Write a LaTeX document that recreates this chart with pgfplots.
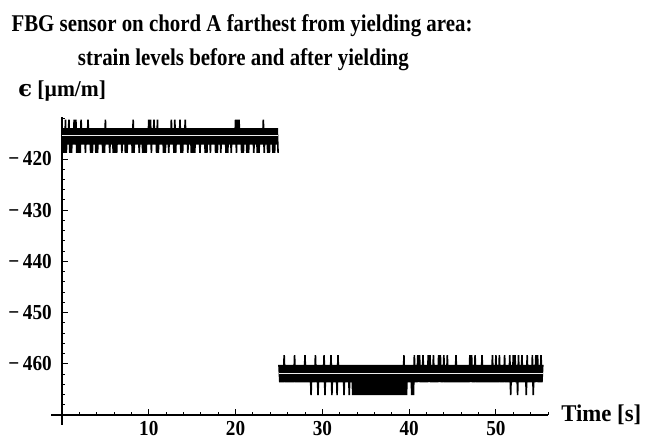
\documentclass[border=0pt]{standalone}
\usepackage{fontspec}
\setmainfont{Liberation Serif}
\newfontfamily\titlefont[FakeStretch=0.87]{Liberation Serif}
\newfontfamily\labelfont[FakeStretch=0.95]{Liberation Serif}
\newfontfamily\tickfont[FakeStretch=0.9]{Liberation Serif}
\newfontfamily\dvs{DejaVu Serif}
\usepackage{pgfplots}
\pgfplotsset{compat=1.18}

\begin{document}
\begin{tikzpicture}
\useasboundingbox (-46.5pt,-19.5pt) rectangle (438.75pt,311.25pt);
\begin{axis}[
  at={(0,0)}, anchor=south west,
  scale only axis,
  width=364.5pt, height=223.5pt,
  xmin=0, xmax=56,
  ymin=-470, ymax=-411.8,
  axis lines=left,
  axis line style={-, line width=0.8pt},
  tick align=inside,
  tick style={black, line width=0.7pt},
  major tick length=4.5pt,
  minor tick length=2.6pt,
  xtick={10,20,30,40,50},
  xticklabels={10,20,30,40,50},
  minor xtick={2,4,...,56},
  ytick={-460,-450,-440,-430,-420},
  minor ytick={-468,-466,...,-412},
  yticklabels={−\,460,−\,450,−\,440,−\,430,−\,420},
  every tick label/.append style={font=\tickfont\bfseries\fontsize{16}{18}\selectfont},
  xticklabel style={anchor=base, yshift=-15.75pt},
  yticklabel style={anchor=east, inner sep=0pt, xshift=-7.5pt},
  clip=false,
]
% before yielding
\addplot[black, line width=1.2pt] coordinates {
(0.0,-414) (0.1,-418.8) (0.2,-414) (0.3,-418.8) (0.4,-412.3) (0.5,-418.8) (0.6,-414) (0.7,-417.2) (0.8,-412.3) (0.9,-418.8)
(1.0,-414) (1.1,-418.8) (1.2,-414) (1.3,-417.2) (1.4,-412.3) (1.5,-417.2) (1.6,-412.3) (1.7,-418.8) (1.8,-414) (1.9,-418.8)
(2.0,-414) (2.1,-418.8) (2.2,-412.3) (2.3,-417.2) (2.4,-414) (2.5,-417.2) (2.6,-414) (2.7,-418.8) (2.8,-414) (2.9,-417.2)
(3.0,-412.3) (3.1,-417.2) (3.2,-414) (3.3,-418.8) (3.4,-414) (3.5,-418.8) (3.6,-414) (3.7,-417.2) (3.8,-414) (3.9,-418.8)
(4.0,-414) (4.1,-418.8) (4.2,-414) (4.3,-417.2) (4.4,-414) (4.5,-417.2) (4.6,-414) (4.7,-418.8) (4.8,-414) (4.9,-418.8)
(5.0,-412.3) (5.1,-417.2) (5.2,-414) (5.3,-417.2) (5.4,-414) (5.5,-418.8) (5.6,-414) (5.7,-417.2) (5.8,-414) (5.9,-418.8)
(6.0,-414) (6.1,-418.8) (6.2,-414) (6.3,-418.8) (6.4,-414) (6.5,-417.2) (6.6,-414) (6.7,-417.2) (6.8,-414) (6.9,-418.8)
(7.0,-414) (7.1,-417.2) (7.2,-414) (7.3,-418.8) (7.4,-414) (7.5,-418.8) (7.6,-414) (7.7,-417.2) (7.8,-414) (7.9,-417.2)
(8.0,-414) (8.1,-418.8) (8.2,-412.3) (8.3,-418.8) (8.4,-414) (8.5,-417.2) (8.6,-414) (8.7,-417.2) (8.8,-414) (8.9,-418.8)
(9.0,-414) (9.1,-417.2) (9.2,-414) (9.3,-418.8) (9.4,-414) (9.5,-418.8) (9.6,-414) (9.7,-418.8) (9.8,-414) (9.9,-417.2)
(10.0,-412.3) (10.1,-417.2) (10.2,-412.3) (10.3,-418.8) (10.4,-414) (10.5,-417.2) (10.6,-412.3) (10.7,-417.2) (10.8,-414) (10.9,-418.8)
(11.0,-412.3) (11.1,-418.8) (11.2,-414) (11.3,-417.2) (11.4,-414) (11.5,-417.2) (11.6,-414) (11.7,-418.8) (11.8,-414) (11.9,-418.8)
(12.0,-414) (12.1,-417.2) (12.2,-414) (12.3,-418.8) (12.4,-414) (12.5,-417.2) (12.6,-412.3) (12.7,-417.2) (12.8,-414) (12.9,-418.8)
(13.0,-412.3) (13.1,-418.8) (13.2,-414) (13.3,-417.2) (13.4,-414) (13.5,-417.2) (13.6,-412.3) (13.7,-418.8) (13.8,-414) (13.9,-418.8)
(14.0,-414) (14.1,-417.2) (14.2,-412.3) (14.3,-417.2) (14.4,-414) (14.5,-418.8) (14.6,-414) (14.7,-417.2) (14.8,-414) (14.9,-418.8)
(15.0,-414) (15.1,-418.8) (15.2,-414) (15.3,-418.8) (15.4,-414) (15.5,-417.2) (15.6,-414) (15.7,-417.2) (15.8,-414) (15.9,-418.8)
(16.0,-414) (16.1,-417.2) (16.2,-414) (16.3,-417.2) (16.4,-414) (16.5,-418.8) (16.6,-414) (16.7,-418.8) (16.8,-414) (16.9,-417.2)
(17.0,-414) (17.1,-418.8) (17.2,-414) (17.3,-417.2) (17.4,-414) (17.5,-417.2) (17.6,-414) (17.7,-418.8) (17.8,-414) (17.9,-418.8)
(18.0,-414) (18.1,-417.2) (18.2,-414) (18.3,-418.8) (18.4,-414) (18.5,-417.2) (18.6,-414) (18.7,-417.2) (18.8,-414) (18.9,-418.8)
(19.0,-414) (19.1,-418.8) (19.2,-414) (19.3,-417.2) (19.4,-414) (19.5,-418.8) (19.6,-414) (19.7,-417.2) (19.8,-414) (19.9,-417.2)
(20.0,-412.3) (20.1,-418.8) (20.2,-412.3) (20.3,-417.2) (20.4,-412.3) (20.5,-417.2) (20.6,-414) (20.7,-418.8) (20.8,-414) (20.9,-418.8)
(21.0,-414) (21.1,-417.2) (21.2,-414) (21.3,-418.8) (21.4,-414) (21.5,-418.8) (21.6,-414) (21.7,-417.2) (21.8,-414) (21.9,-417.2)
(22.0,-414) (22.1,-418.8) (22.2,-414) (22.3,-417.2) (22.4,-414) (22.5,-418.8) (22.6,-414) (22.7,-418.8) (22.8,-414) (22.9,-417.2)
(23.0,-414) (23.1,-417.2) (23.2,-412.3) (23.3,-418.8) (23.4,-414) (23.5,-417.2) (23.6,-414) (23.7,-418.8) (23.8,-414) (23.9,-418.8)
(24.0,-414) (24.1,-417.2) (24.2,-414) (24.3,-418.8) (24.4,-414) (24.5,-418.8) (24.6,-414) (24.7,-417.2) (24.8,-414) (24.9,-418.8)
};
% after yielding
\addplot[black, line width=1.2pt] coordinates {
(25.0,-460.2) (25.1,-463.6) (25.2,-460.2) (25.3,-463.6) (25.4,-460.2) (25.5,-463.6) (25.6,-458.3) (25.7,-463.6) (25.8,-460.2) (25.9,-463.6)
(26.0,-460.2) (26.1,-463.6) (26.2,-460.2) (26.3,-463.6) (26.4,-460.2) (26.5,-463.6) (26.6,-460.2) (26.7,-463.6) (26.8,-458.3) (26.9,-463.6)
(27.0,-460.2) (27.1,-463.6) (27.2,-460.2) (27.3,-463.6) (27.4,-460.2) (27.5,-463.6) (27.6,-460.2) (27.7,-463.6) (27.8,-460.2) (27.9,-463.6)
(28.0,-458.3) (28.1,-463.6) (28.2,-460.2) (28.3,-463.6) (28.4,-460.2) (28.5,-463.6) (28.6,-460.2) (28.7,-466.1) (28.8,-460.2) (28.9,-463.6)
(29.0,-460.2) (29.1,-463.6) (29.2,-458.3) (29.3,-463.6) (29.4,-460.2) (29.5,-466.1) (29.6,-460.2) (29.7,-463.6) (29.8,-460.2) (29.9,-463.6)
(30.0,-460.2) (30.1,-463.6) (30.2,-458.3) (30.3,-466.1) (30.4,-460.2) (30.5,-463.6) (30.6,-460.2) (30.7,-463.6) (30.8,-460.2) (30.9,-463.6)
(31.0,-458.3) (31.1,-466.1) (31.2,-460.2) (31.3,-463.6) (31.4,-460.2) (31.5,-463.6) (31.6,-460.2) (31.7,-466.1) (31.8,-458.3) (31.9,-463.6)
(32.0,-460.2) (32.1,-463.6) (32.2,-460.2) (32.3,-463.6) (32.4,-460.2) (32.5,-466.1) (32.6,-460.2) (32.7,-463.6) (32.8,-460.2) (32.9,-463.6)
(33.0,-460.2) (33.1,-466.1) (33.2,-460.2) (33.3,-463.6) (33.4,-460.2) (33.5,-466.1) (33.6,-460.2) (33.7,-466.1) (33.8,-460.2) (33.9,-466.1)
(34.0,-460.2) (34.1,-466.1) (34.2,-460.2) (34.3,-466.1) (34.4,-460.2) (34.5,-466.1) (34.6,-460.2) (34.7,-466.1) (34.8,-460.2) (34.9,-466.1)
(35.0,-460.2) (35.1,-466.1) (35.2,-460.2) (35.3,-466.1) (35.4,-460.2) (35.5,-466.1) (35.6,-460.2) (35.7,-466.1) (35.8,-460.2) (35.9,-466.1)
(36.0,-460.2) (36.1,-466.1) (36.2,-460.2) (36.3,-466.1) (36.4,-460.2) (36.5,-466.1) (36.6,-460.2) (36.7,-466.1) (36.8,-460.2) (36.9,-466.1)
(37.0,-460.2) (37.1,-466.1) (37.2,-460.2) (37.3,-466.1) (37.4,-460.2) (37.5,-466.1) (37.6,-460.2) (37.7,-466.1) (37.8,-460.2) (37.9,-466.1)
(38.0,-460.2) (38.1,-466.1) (38.2,-460.2) (38.3,-466.1) (38.4,-460.2) (38.5,-466.1) (38.6,-460.2) (38.7,-466.1) (38.8,-460.2) (38.9,-466.1)
(39.0,-460.2) (39.1,-466.1) (39.2,-460.2) (39.3,-466.1) (39.4,-458.3) (39.5,-466.1) (39.6,-460.2) (39.7,-466.1) (39.8,-460.2) (39.9,-463.6)
(40.0,-460.2) (40.1,-463.6) (40.2,-460.2) (40.3,-466.1) (40.4,-460.2) (40.5,-466.1) (40.6,-458.3) (40.7,-463.6) (40.8,-460.2) (40.9,-463.6)
(41.0,-458.3) (41.1,-463.6) (41.2,-458.3) (41.3,-463.6) (41.4,-460.2) (41.5,-463.6) (41.6,-458.3) (41.7,-463.6) (41.8,-460.2) (41.9,-463.6)
(42.0,-460.2) (42.1,-463.6) (42.2,-458.3) (42.3,-463.6) (42.4,-458.3) (42.5,-463.6) (42.6,-460.2) (42.7,-463.6) (42.8,-458.3) (42.9,-463.6)
(43.0,-460.2) (43.1,-463.6) (43.2,-460.2) (43.3,-463.6) (43.4,-458.3) (43.5,-463.6) (43.6,-458.3) (43.7,-463.6) (43.8,-460.2) (43.9,-463.6)
(44.0,-458.3) (44.1,-463.6) (44.2,-460.2) (44.3,-463.6) (44.4,-458.3) (44.5,-463.6) (44.6,-460.2) (44.7,-463.6) (44.8,-460.2) (44.9,-463.6)
(45.0,-460.2) (45.1,-463.6) (45.2,-460.2) (45.3,-463.6) (45.4,-458.3) (45.5,-463.6) (45.6,-460.2) (45.7,-463.6) (45.8,-460.2) (45.9,-463.6)
(46.0,-460.2) (46.1,-463.6) (46.2,-460.2) (46.3,-463.6) (46.4,-460.2) (46.5,-463.6) (46.6,-460.2) (46.7,-463.6) (46.8,-460.2) (46.9,-463.6)
(47.0,-458.3) (47.1,-463.6) (47.2,-458.3) (47.3,-463.6) (47.4,-460.2) (47.5,-463.6) (47.6,-458.3) (47.7,-463.6) (47.8,-460.2) (47.9,-463.6)
(48.0,-460.2) (48.1,-463.6) (48.2,-460.2) (48.3,-463.6) (48.4,-458.3) (48.5,-463.6) (48.6,-460.2) (48.7,-463.6) (48.8,-460.2) (48.9,-463.6)
(49.0,-460.2) (49.1,-463.6) (49.2,-460.2) (49.3,-463.6) (49.4,-460.2) (49.5,-463.6) (49.6,-458.3) (49.7,-463.6) (49.8,-460.2) (49.9,-463.6)
(50.0,-458.3) (50.1,-463.6) (50.2,-460.2) (50.3,-463.6) (50.4,-458.3) (50.5,-463.6) (50.6,-460.2) (50.7,-463.6) (50.8,-460.2) (50.9,-463.6)
(51.0,-458.3) (51.1,-463.6) (51.2,-460.2) (51.3,-463.6) (51.4,-460.2) (51.5,-463.6) (51.6,-458.3) (51.7,-466.1) (51.8,-460.2) (51.9,-463.6)
(52.0,-458.3) (52.1,-463.6) (52.2,-458.3) (52.3,-463.6) (52.4,-460.2) (52.5,-466.1) (52.6,-458.3) (52.7,-463.6) (52.8,-460.2) (52.9,-463.6)
(53.0,-458.3) (53.1,-463.6) (53.2,-460.2) (53.3,-463.6) (53.4,-460.2) (53.5,-466.1) (53.6,-458.3) (53.7,-463.6) (53.8,-460.2) (53.9,-463.6)
(54.0,-460.2) (54.1,-463.6) (54.2,-458.3) (54.3,-466.1) (54.4,-460.2) (54.5,-463.6) (54.6,-458.3) (54.7,-463.6) (54.8,-458.3) (54.9,-463.6)
(55.0,-460.2) (55.1,-463.6) (55.2,-458.3) (55.3,-463.6) (55.4,-460.2)
};
% mean levels
\addplot[gray!15, line width=0.5pt] coordinates {(0,-415.3) (24.9,-415.3)};
\addplot[gray!15, line width=0.5pt] coordinates {(25,-461.8) (55.4,-461.8)};
\end{axis}
% axis overhang (axes cross at the origin)
\draw[line width=0.8pt] (-8pt,0) -- (0,0);
\draw[line width=0.8pt] (0,0) -- (0,-7.5pt);
% titles and labels
\node[anchor=base, font=\titlefont\bfseries\fontsize{18}{20}\selectfont, inner sep=0pt] at (135pt,287.25pt) {FBG sensor on chord A farthest from yielding area:};
\node[anchor=base, font=\titlefont\bfseries\fontsize{18}{20}\selectfont, inner sep=0pt] at (136pt,261.75pt) {strain levels before and after yielding};
\node[anchor=base west, font=\labelfont\bfseries\fontsize{17}{19}\selectfont, inner sep=0pt] at (-33pt,238.5pt) {{\dvs ϵ} [µm/m]};
\node[anchor=base west, font=\labelfont\bfseries\fontsize{18}{20}\selectfont, inner sep=0pt] at (374.25pt,-5pt) {Time [s]};
\end{tikzpicture}
\end{document}
